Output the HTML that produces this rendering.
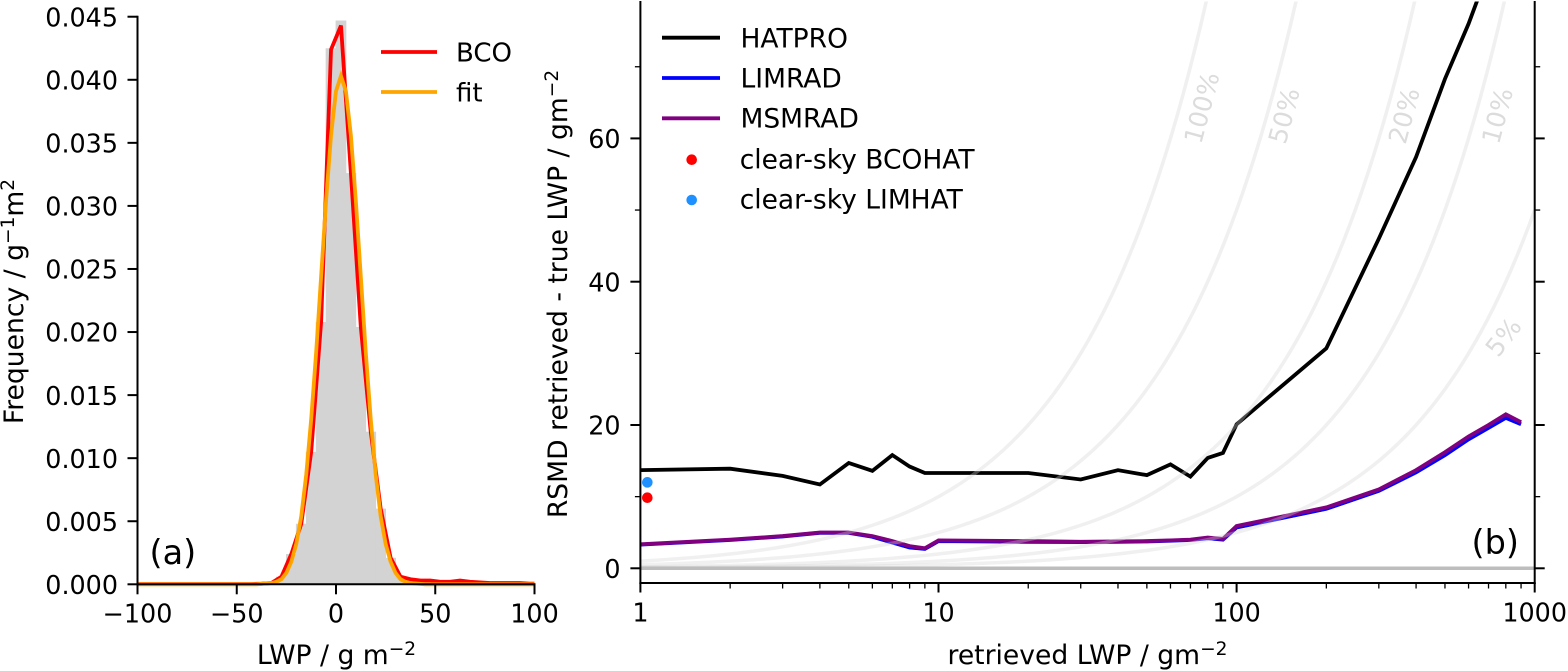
<!DOCTYPE html>
<html>
<head>
<meta charset="utf-8">
<title>LWP frequency and RMSD chart</title>
<style>
html,body{margin:0;padding:0;background:#fff;width:1568px;height:671px;overflow:hidden}
svg{display:block}
text{font-family:"DejaVu Sans","Liberation Sans",sans-serif;font-size:25.4px;fill:#000}
.leg{font-size:26.5px}
.lega{font-size:26px}
.ttl{font-size:26.6px}
.sup{font-size:18.6px}
.pct{font-size:25.4px;fill:#dcdcdc}
</style>
</head>
<body>
<svg id="chart" width="1568" height="671" viewBox="0 0 1568 671" xmlns="http://www.w3.org/2000/svg">
  <defs>
    <clipPath id="clip-b"><rect x="640" y="1.5" width="895" height="581.5"/></clipPath>
  </defs>
  <g id="panel-a"></g>
  <g id="panel-b"></g>

  <text class="pct" transform="translate(1210.4,110) rotate(-75)" text-anchor="middle">100%</text>
  <text class="pct" transform="translate(1292.7,118) rotate(-75)" text-anchor="middle">50%</text>
  <text class="pct" transform="translate(1412.7,118) rotate(-75)" text-anchor="middle">20%</text>
  <text class="pct" transform="translate(1506,118) rotate(-75)" text-anchor="middle">10%</text>
  <text class="pct" transform="translate(1510.4,342.5) rotate(-52)" text-anchor="middle">5%</text>

  <text x="149.5" y="564" style="font-size:33.5px">(a)</text>
  <text x="1471.5" y="554" style="font-size:33.5px">(b)</text>

  <text class="ttl" x="336.5" y="664" text-anchor="middle">LWP / g m<tspan class="sup" dy="-9">−2</tspan></text>
  <text class="ttl" transform="translate(23,301.5) rotate(-90)" text-anchor="middle">Frequency / g<tspan class="sup" dy="-9">−1</tspan><tspan dy="9">m</tspan><tspan class="sup" dy="-9">2</tspan></text>
  <text class="ttl" x="1087.5" y="664" text-anchor="middle">retrieved LWP / gm<tspan class="sup" dy="-9">−2</tspan></text>
  <text class="ttl" transform="translate(567,294) rotate(-90)" text-anchor="middle">RSMD retrieved - true LWP / gm<tspan class="sup" dy="-9">−2</tspan></text>

  <g>
    <line x1="381" x2="437" y1="52" y2="52" stroke="#ff0000" stroke-width="3.8"/>
    <text class="lega" x="456" y="61.5">BCO</text>
    <line x1="381" x2="437" y1="92" y2="92" stroke="#ffa500" stroke-width="3.8"/>
    <text class="lega" x="456" y="101.5">fit</text>
  </g>
  <g>
    <line x1="662" x2="720" y1="37.7" y2="37.7" stroke="#000" stroke-width="3.8"/>
    <text class="leg" x="740.5" y="47.5">HATPRO</text>
    <line x1="662" x2="720" y1="78" y2="78" stroke="#0000ff" stroke-width="3.8"/>
    <text class="leg" x="740.5" y="87.7">LIMRAD</text>
    <line x1="662" x2="720" y1="118.3" y2="118.3" stroke="#800080" stroke-width="3.8"/>
    <text class="leg" x="740.5" y="127.7">MSMRAD</text>
    <circle cx="691.7" cy="159.7" r="5.3" fill="#ff0000"/>
    <text class="leg" x="739.7" y="168.3">clear-sky BCOHAT</text>
    <circle cx="691.7" cy="200" r="5.3" fill="#1e90ff"/>
    <text class="leg" x="739.7" y="208.3">clear-sky LIMHAT</text>
  </g>
</svg>
<script>
// Panel (a) data
const binCenters = [-97.5,-92.5,-87.5,-82.5,-77.5,-72.5,-67.5,-62.5,-57.5,-52.5,-47.5,-42.5,-37.5,-32.5,-27.5,-22.5,-17.5,-12.5,-7.5,-2.5,2.5,7.5,12.5,17.5,22.5,27.5,32.5,37.5,42.5,47.5,52.5,57.5,62.5,67.5,72.5,77.5,82.5,87.5,92.5,97.5];
const bcoFrequency = [0.00002,0.00002,0.00002,0.00002,0.00002,0.00002,0.00002,0.00002,0.00002,0.00002,0.00002,0.00002,0.00005,0.0001,0.0006,0.0024,0.0048,0.0105,0.0208,0.0424,0.0443,0.0326,0.0204,0.0121,0.0060,0.0021,0.0006,0.0004,0.0003,0.0003,0.0002,0.0002,0.0003,0.0002,0.00015,0.0001,0.0001,0.0001,0.0001,0.00005];
const histFrequency = [0,0,0,0,0,0,0,0,0,0,0,0,0.00005,0.0001,0.0006,0.0024,0.0048,0.0105,0.0208,0.0425,0.0447,0.0326,0.0204,0.0121,0.0060,0.0021,0.0006,0.0003,0.0002,0.0002,0.0001,0.0001,0.0002,0.0001,0,0,0,0,0,0];
const fitX = [-100,-40,-32.5,-30,-27.5,-25,-22.5,-20,-17.5,-15,-12.5,-10,-7.5,-5,-2.5,0,2.5,5,7.5,10,12.5,15,17.5,20,22.5,25,27.5,30,32.5,35,37.5,45,100];
const fitFrequency = [0,0,0.0001,0.0002,0.0004,0.0009,0.0018,0.0032,0.0054,0.0087,0.0131,0.0184,0.0244,0.0304,0.0356,0.0391,0.0403,0.0391,0.0356,0.0304,0.0244,0.0184,0.0131,0.0087,0.0054,0.0032,0.0018,0.0009,0.0004,0.0002,0.0001,0,0];
const xTicksA = [-100,-50,0,50,100];
const xTickLabelsA = ["−100","−50","0","50","100"];
const yTicksA = [0,0.005,0.01,0.015,0.02,0.025,0.03,0.035,0.04,0.045];
const yTickLabelsA = ["0.000","0.005","0.010","0.015","0.020","0.025","0.030","0.035","0.040","0.045"];

// Panel (b) data
const lwpBins = [1,2,3,4,5,6,7,8,9,10,20,30,40,50,60,70,80,90,100,200,300,400,500,600,700,800,900];
const hatproRmsd = [13.7,13.9,12.9,11.7,14.7,13.6,15.8,14.2,13.3,13.3,13.3,12.4,13.7,13.0,14.5,12.8,15.4,16.1,20.1,30.7,46.0,57.4,68.3,76.0,83.5,90.0,96.0];
const limradRmsd = [3.3,3.95,4.45,4.95,4.95,4.4,3.6,2.9,2.7,3.8,3.7,3.65,3.7,3.75,3.85,3.95,4.2,4.0,5.7,8.3,10.8,13.4,15.8,18.0,19.6,21.0,20.1];
const msmradRmsd = [3.35,4.0,4.5,5.0,5.0,4.5,3.8,3.1,2.8,3.9,3.8,3.7,3.75,3.8,3.9,4.0,4.3,4.1,5.9,8.5,11.0,13.7,16.2,18.4,20.0,21.5,20.4];
const clearSkyValues = [9.85,12];
const clearSkyNames = ["clear-sky-bcohat-dot","clear-sky-limhat-dot"];
const clearSkyColors = ["#ff0000","#1e90ff"];
const clearSkyLwp = 1.055;
const guidePercents = [100,50,20,10,5];
const xTicksB = [1,10,100,1000];
const xTickLabelsB = ["1","10","100","1000"];
const xMinorTicksB = [2,3,4,5,6,7,8,9,20,30,40,50,60,70,80,90,200,300,400,500,600,700,800,900];
const yTicksB = [0,20,40,60];
const yTickLabelsB = ["0","20","40","60"];
const yMinorTicksB = [10,30,50,70];

const SVGNS = "http://www.w3.org/2000/svg";
function el(tag, parent, attrs) {
  const e = document.createElementNS(SVGNS, tag);
  for (const k in attrs) e.setAttribute(k, attrs[k]);
  parent.appendChild(e);
  return e;
}
// Axis functions
const xA = v => 336 + v * 1.985;
const yA = v => 584.3 - v * 12613;
const xB = v => 640.4 + Math.log10(v) * 298.1;
const yB = v => 568.3 - v * 7.165;
const pts = (xs, ys, fx, fy) => xs.map((x, i) => fx(x).toFixed(2) + "," + fy(ys[i]).toFixed(2)).join(" ");

const panelA = document.getElementById("panel-a");
const panelB = document.getElementById("panel-b");

// Panel (a) histogram
binCenters.forEach((c, i) => {
  if (histFrequency[i] <= 0) return;
  const r = el("rect", panelA, {x: xA(c - 2.5) - 0.4, y: yA(histFrequency[i]), width: xA(c + 2.5) - xA(c - 2.5) + 0.8, height: yA(0) - yA(histFrequency[i]), fill: "#d3d3d3"});
  
  
});
const bcoX = [-100].concat(binCenters, [100]);
const bcoY = [bcoFrequency[0]].concat(bcoFrequency, [bcoFrequency[bcoFrequency.length - 1]]);
const bcoLine = el("polyline", panelA, {points: pts(bcoX, bcoY, xA, yA), fill: "none", stroke: "#ff0000", "stroke-width": 3.8});


const fitLine = el("polyline", panelA, {points: pts(fitX, fitFrequency, xA, yA), fill: "none", stroke: "#ffa500", "stroke-width": 3.8});



// Panel (a) axes
const spineLeftA = el("line", panelA, {x1: xA(-100), x2: xA(-100), y1: yA(0.045) - 1, y2: 585.3, stroke: "#000", "stroke-width": 2});


const spineBottomA = el("line", panelA, {x1: xA(-100) - 1, x2: xA(100) + 1, y1: 584.3, y2: 584.3, stroke: "#000", "stroke-width": 2});


xTicksA.forEach((t, i) => {
  const m = el("line", panelA, {x1: xA(t), x2: xA(t), y1: 584.3, y2: 594.3, stroke: "#000", "stroke-width": 2});
  
  
  const l = el("text", panelA, {x: xA(t), y: 622.5, "text-anchor": "middle"});
  
  
  l.textContent = xTickLabelsA[i];
});
yTicksA.forEach((t, i) => {
  const m = el("line", panelA, {x1: xA(-100) - 10, x2: xA(-100), y1: yA(t), y2: yA(t), stroke: "#000", "stroke-width": 2});
  
  
  const l = el("text", panelA, {x: 118, y: yA(t) + 9.7, "text-anchor": "end"});
  
  
  l.textContent = yTickLabelsA[i];
});

// Panel (b) series
const plotB = el("g", panelB, {"clip-path": "url(#clip-b)"});


const hatproLine = el("polyline", plotB, {points: pts(lwpBins, hatproRmsd, xB, yB), fill: "none", stroke: "#000", "stroke-width": 3.8});


const limradLine = el("polyline", plotB, {points: pts(lwpBins, limradRmsd, xB, yB), fill: "none", stroke: "#0000ff", "stroke-width": 3.8});


const msmradLine = el("polyline", plotB, {points: pts(lwpBins, msmradRmsd, xB, yB), fill: "none", stroke: "#800080", "stroke-width": 3.8});



// Relative-error guide curves: rmsd = percent * lwp, sampled along the log axis
guidePercents.forEach(p => {
  const xs = [];
  for (let d = 0; d <= 3.0001; d += 0.02) xs.push(Math.pow(10, d));
  const ys = xs.map(g => g * p / 100);
  const c = el("polyline", plotB, {points: pts(xs, ys, xB, yB), fill: "none", stroke: "#d3d3d3", "stroke-opacity": 0.35, "stroke-width": 3.5, "stroke-linejoin": "round"});
  
  
});
const zeroLine = el("line", plotB, {x1: xB(1), x2: xB(1000), y1: yB(0), y2: yB(0), stroke: "#bdbdbd", "stroke-width": 3.5});



clearSkyValues.forEach((v, i) => {
  const d = el("circle", plotB, {cx: xB(clearSkyLwp), cy: yB(v), r: 5.3, fill: clearSkyColors[i]});
  
  
});

// Panel (b) axes
const spineLeftB = el("line", panelB, {x1: xB(1), x2: xB(1), y1: 1, y2: 584, stroke: "#000", "stroke-width": 2});


const spineRightB = el("line", panelB, {x1: xB(1000), x2: xB(1000), y1: 1, y2: 584, stroke: "#000", "stroke-width": 2});


const spineBottomB = el("line", panelB, {x1: xB(1) - 1, x2: xB(1000) + 1, y1: 583, y2: 583, stroke: "#000", "stroke-width": 2});


xTicksB.forEach((t, i) => {
  const m = el("line", panelB, {x1: xB(t), x2: xB(t), y1: 583, y2: 592.5, stroke: "#000", "stroke-width": 2});
  
  
  const l = el("text", panelB, {x: xB(t), y: 621.7, "text-anchor": "middle"});
  
  
  l.textContent = xTickLabelsB[i];
});
xMinorTicksB.forEach(t => {
  const m = el("line", panelB, {x1: xB(t), x2: xB(t), y1: 583, y2: 588.5, stroke: "#000", "stroke-width": 1.3});
  
  
});
yTicksB.forEach((t, i) => {
  const m = el("line", panelB, {x1: xB(1) - 10, x2: xB(1), y1: yB(t), y2: yB(t), stroke: "#000", "stroke-width": 2});
  
  
  const r = el("line", panelB, {x1: xB(1000), x2: xB(1000) + 10, y1: yB(t), y2: yB(t), stroke: "#000", "stroke-width": 2});
  
  
  const l = el("text", panelB, {x: 620.5, y: yB(t) + 9.7, "text-anchor": "end"});
  
  
  l.textContent = yTickLabelsB[i];
});
yMinorTicksB.forEach(t => {
  const m = el("line", panelB, {x1: xB(1) - 5.5, x2: xB(1), y1: yB(t), y2: yB(t), stroke: "#000", "stroke-width": 1.3});
  
  
  const r = el("line", panelB, {x1: xB(1000), x2: xB(1000) + 5.5, y1: yB(t), y2: yB(t), stroke: "#000", "stroke-width": 1.3});
  
  
});
</script>
</body>
</html>
